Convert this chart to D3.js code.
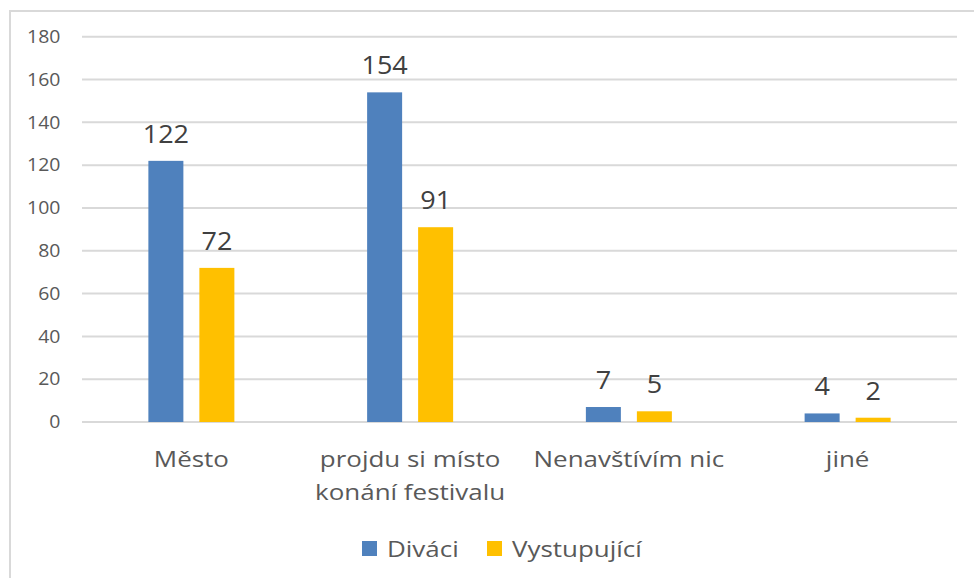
<!DOCTYPE html>
<html>
<head>
<meta charset="utf-8">
<script src="https://cdn.jsdelivr.net/npm/d3@7"></script>
<style>
  body { margin: 0; background: #fff; }
  svg text { font-family: "Open Sans", "Noto Sans", sans-serif; }
</style>
</head>
<body>
<div id="graph"></div>
<script>
// Data
const categories = ['Město', 'projdu si místo konání festivalu', 'Nenavštívím nic', 'jiné'];
const categoryLines = [['Město'], ['projdu si místo', 'konání festivalu'], ['Nenavštívím nic'], ['jiné']];
const seriesNames = ['Diváci', 'Vystupující'];
const divaci = [122, 154, 7, 4];
const vystupujici = [72, 91, 5, 2];
const yTicks = [0, 20, 40, 60, 80, 100, 120, 140, 160, 180];
const colors = ['#4f81bd', '#ffc000'];

const width = 974;
const height = 578;
const margin = { top: 36.7, left: 82, right: 17, bottom: 156 };
const graphWidth = width - margin.left - margin.right;
const graphHeight = height - margin.top - margin.bottom;
// reference text looks slightly stretched horizontally
const stretch = 1.18;

const svg = d3.select('#graph')
  .append('svg')
  .attr('width', width)
  .attr('height', height);

// Chart border (only top and left visible)
svg.append('path')
  .attr('d', `M10,${height} L10,11 L${width},11`)
  .attr('fill', 'none')
  .attr('stroke', '#d9d9d9')
  .attr('stroke-width', 2);

const xScale = d3.scaleBand().domain(categories).range([0, graphWidth]);
const yScale = d3.scaleLinear().domain([0, 180]).range([graphHeight, 0]);

const plot = svg.append('g').attr('transform', `translate(${margin.left},${margin.top})`);

// Grid lines
plot.selectAll('.grid-line')
  .data(yTicks)
  .enter()
  .append('line')
  .attr('x1', 0)
  .attr('x2', graphWidth)
  .attr('y1', d => yScale(d))
  .attr('y2', d => yScale(d))
  .attr('stroke', '#d9d9d9')
  .attr('stroke-width', 2);

// Y axis labels
const yAxis = d3.axisLeft(yScale).tickValues(yTicks).tickSize(0).tickPadding(20);
plot.append('g')
  .call(yAxis)
  .call(g => g.select('.domain').remove())
  .selectAll('text')
  .attr('fill', '#595959')
  .style('font-size', '18px')
  .attr('transform', 'scale(1.08,1)');

// Bars
const barWidth = 35;
const barGap = 16;
const series = [divaci, vystupujici];
series.forEach((values, i) => {
  const offset = xScale.bandwidth() / 2 - (barWidth * 2 + barGap) / 2 + i * (barWidth + barGap);
  const g = plot.append('g');
  g.selectAll('rect')
    .data(values)
    .enter()
    .append('rect')
    .attr('x', (d, j) => xScale(categories[j]) + offset)
    .attr('y', d => yScale(d))
    .attr('width', barWidth)
    .attr('height', d => graphHeight - yScale(d))
    .attr('fill', colors[i]);

  // Data labels
  g.selectAll('text')
    .data(values)
    .enter()
    .append('text')
    .attr('transform', (d, j) =>
      `translate(${xScale(categories[j]) + offset + barWidth / 2},${yScale(d) - 18}) scale(1.08,1)`)
    .attr('text-anchor', 'middle')
    .attr('fill', '#404040')
    .style('font-size', '25px')
    .text(d => d);
});

// Category labels
const catG = plot.append('g').attr('transform', `translate(0,${graphHeight})`);
categoryLines.forEach((lines, j) => {
  const t = catG.append('text')
    .attr('transform', `translate(${xScale(categories[j]) + xScale.bandwidth() / 2},45) scale(${stretch},1)`)
    .attr('text-anchor', 'middle')
    .attr('fill', '#595959')
    .style('font-size', '22px');
  lines.forEach((line, k) => {
    t.append('tspan')
      .attr('x', 0)
      .attr('dy', k === 0 ? 0 : 33)
      .text(line);
  });
});

// Legend
const legendX = [362, 487];
const legend = svg.append('g');
seriesNames.forEach((name, i) => {
  legend.append('rect')
    .attr('x', legendX[i])
    .attr('y', 541)
    .attr('width', 15)
    .attr('height', 15)
    .attr('fill', colors[i]);
  legend.append('text')
    .attr('transform', `translate(${legendX[i] + 25},557) scale(${stretch},1)`)
    .attr('fill', '#595959')
    .style('font-size', '22px')
    .text(name);
});
</script>
</body>
</html>
